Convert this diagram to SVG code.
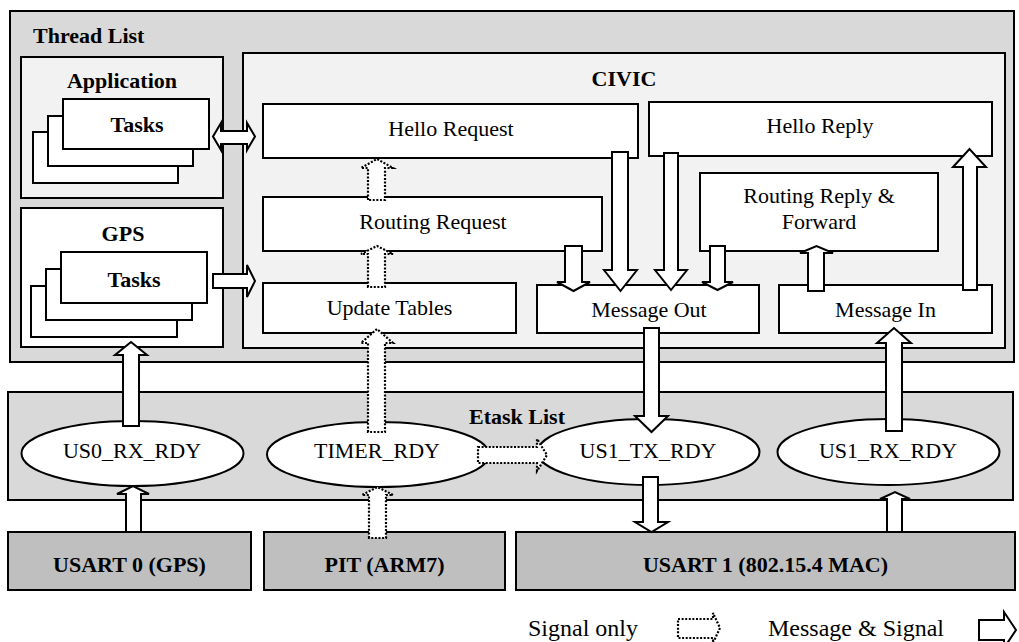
<svg xmlns="http://www.w3.org/2000/svg" width="1019" height="642" viewBox="0 0 1019 642">
<style>
.box{stroke:#000;stroke-width:2}
.t{font-family:"Liberation Serif","Times New Roman",serif;font-size:22px;fill:#000;text-anchor:middle}
.b{font-weight:bold}
.arr{fill:#fff;stroke:#000;stroke-width:2;stroke-linejoin:miter}
.dot{fill:#fff;stroke:#000;stroke-width:2.2;stroke-dasharray:2 1.6}
</style>
<rect width="1019" height="642" fill="#fff"/>
<g id="thread-list">
<rect class="box" x="10" y="11" width="1004" height="351" fill="#d9d9d9"/>
<text class="t b" x="33" y="43" style="text-anchor:start">Thread List</text>
</g>
<g id="application">
<rect class="box" x="21" y="57" width="202" height="141" fill="#f2f2f2"/>
<text class="t b" x="122" y="88">Application</text>
<rect class="box" x="33" y="132" width="145" height="51" fill="#fff"/>
<rect class="box" x="48" y="116" width="145" height="50" fill="#fff"/>
<rect class="box" x="63" y="99" width="146" height="50" fill="#fff"/>
<text class="t b" x="137" y="132">Tasks</text>
</g>
<g id="gps">
<rect class="box" x="21" y="208" width="202" height="139" fill="#fff"/>
<text class="t b" x="123" y="241">GPS</text>
<rect class="box" x="31" y="286" width="146" height="51" fill="#fff"/>
<rect class="box" x="46" y="269" width="146" height="51" fill="#fff"/>
<rect class="box" x="61" y="252" width="146" height="51" fill="#fff"/>
<text class="t b" x="134" y="287">Tasks</text>
</g>
<g id="civic">
<rect class="box" x="243" y="53" width="762" height="295" fill="#f2f2f2"/>
<text class="t b" x="624" y="86">CIVIC</text>
</g>
<g id="hello-request">
<rect class="box" x="263" y="104" width="375" height="54" fill="#fff"/>
<text class="t" x="451" y="136">Hello Request</text>
</g>
<g id="routing-request">
<rect class="box" x="263" y="197" width="339" height="54" fill="#fff"/>
<text class="t" x="433" y="229">Routing Request</text>
</g>
<g id="update-tables">
<rect class="box" x="263" y="283" width="253" height="50" fill="#fff"/>
<text class="t" x="389.5" y="315">Update Tables</text>
</g>
<g id="message-out">
<rect class="box" x="537" y="285" width="222" height="48" fill="#fff"/>
<text class="t" x="649" y="317">Message Out</text>
</g>
<g id="hello-reply">
<rect class="box" x="649" y="102" width="343" height="54" fill="#fff"/>
<text class="t" x="820" y="133">Hello Reply</text>
</g>
<g id="routing-reply">
<rect class="box" x="700" y="173" width="238" height="78" fill="#fff"/>
<text class="t" x="819" y="203">Routing Reply &amp;</text>
<text class="t" x="819" y="229">Forward</text>
</g>
<g id="message-in">
<rect class="box" x="779" y="285" width="213" height="48" fill="#fff"/>
<text class="t" x="885.5" y="317">Message In</text>
</g>
<g id="etask-list">
<rect class="box" x="8" y="392" width="1005" height="108" fill="#d9d9d9"/>
<text class="t b" x="517" y="424">Etask List</text>
</g>
<g id="us0-rx-rdy">
<ellipse class="box" cx="132.5" cy="453.5" rx="111" ry="32.5" fill="#fff"/>
<text class="t" x="132" y="458">US0_RX_RDY</text>
</g>
<g id="timer-rdy">
<ellipse class="box" cx="378" cy="454.5" rx="111" ry="32.5" fill="#fff"/>
<text class="t" x="377" y="458">TIMER_RDY</text>
</g>
<g id="us1-tx-rdy">
<ellipse class="box" cx="648.5" cy="452" rx="111" ry="33" fill="#fff"/>
<text class="t" x="648" y="458">US1_TX_RDY</text>
</g>
<g id="us1-rx-rdy">
<ellipse class="box" cx="888.5" cy="452" rx="111" ry="33" fill="#fff"/>
<text class="t" x="888" y="458">US1_RX_RDY</text>
</g>
<g id="usart0">
<rect class="box" x="8" y="532" width="243" height="58" fill="#bfbfbf"/>
<text class="t b" x="129.5" y="572">USART 0 (GPS)</text>
</g>
<g id="pit">
<rect class="box" x="264" y="532" width="241" height="58" fill="#bfbfbf"/>
<text class="t b" x="384.5" y="572">PIT (ARM7)</text>
</g>
<g id="usart1">
<rect class="box" x="516" y="532" width="499" height="58" fill="#bfbfbf"/>
<text class="t b" x="765.5" y="572">USART 1 (802.15.4 MAC)</text>
</g>
<g id="connectors">
<path class="arr" d="M213,136.5 L221,123 V131 H247 V123 L255,136.5 L247,150 V144 H221 V150 Z"/>
<path class="arr" d="M213,274 H247 V265 L255,281 L247,297 V288 H213 Z"/>
<path class="arr" d="M123,426 V355 H115 L131,342 L147,355 H139 V426 Z"/>
<path class="arr" d="M126,532 V494 H117 L133,486 L149,494 H141 V532 Z"/>
<path class="dot" d="M369,538 V495 H362 L377.5,487 L393,495 H386 V538 Z"/>
<path class="dot" d="M368,432 V343 H361 L377,329 L393,343 H385 V432 Z"/>
<path class="dot" d="M368,287 V254 H361 L377,246 L393,254 H385 V287 Z"/>
<path class="dot" d="M368,200 V168 H361 L377,159 L393,168 H385 V200 Z"/>
<path class="dot" d="M478,447 H537 V439 L547,455 L537,471 V463 H478 Z"/>
<path class="arr" d="M612,152 V270 H604 L620.5,291 L637,270 H628 V152 Z"/>
<path class="arr" d="M565,246 V282 H557 L573.5,291 L590,282 H582 V246 Z"/>
<path class="arr" d="M664,153 V270 H655 L671,290 L687,270 H678 V153 Z"/>
<path class="arr" d="M710,246 V282 H702 L717.5,290 L733,282 H725 V246 Z"/>
<path class="arr" d="M808,291 V253 H800 L816.5,246 L833,253 H824 V291 Z"/>
<path class="arr" d="M963,290 V167 H953 L969.5,149 L986,167 H977 V290 Z"/>
<path class="arr" d="M644,328 V416 H635 L651.5,432 L668,416 H659 V328 Z"/>
<path class="arr" d="M643,477 V522 H635 L651.5,532 L668,522 H658 V477 Z"/>
<path class="arr" d="M886,431 V343 H877 L894,328 L911,343 H902 V431 Z"/>
<path class="arr" d="M887,532 V499 H880 L895,492 L910,499 H902 V532 Z"/>
</g>
<g id="legend">
<text class="t" x="528" y="636" style="font-size:24px;text-anchor:start">Signal only</text>
<path class="dot" d="M678,619 H713 V613 L720,628 L713,643 V638 H678 Z"/>
<text class="t" x="768" y="636" style="font-size:24px;text-anchor:start">Message &amp; Signal</text>
<path class="arr" d="M979,620 H1004 V612 L1016,630 L1004,648 V640 H979 Z"/>
</g>
</svg>
